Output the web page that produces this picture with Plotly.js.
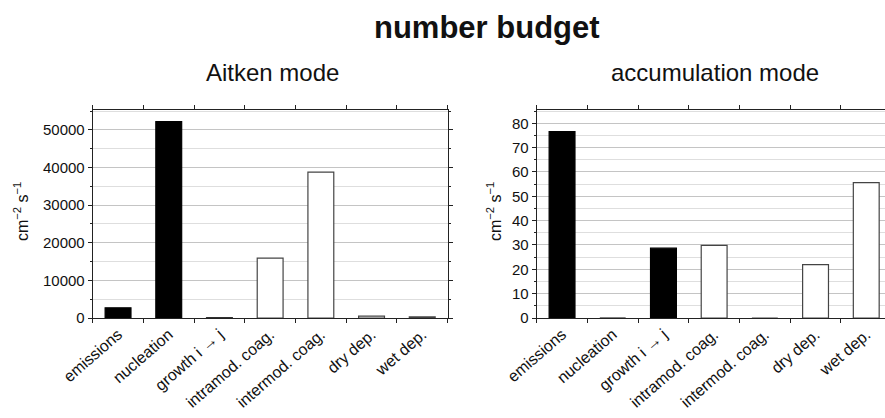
<!DOCTYPE html>
<html><head><meta charset="utf-8">
<script src="https://cdn.plot.ly/plotly-3.0.1.min.js"></script>
<style>html,body{margin:0;padding:0;overflow:hidden;background:#fff}#chart{width:900px;height:418px}</style>
</head><body><div id="chart"></div>
<script>
const categories = ["emissions", "nucleation", "growth i \u2192 j", "intramod. coag.", "intermod. coag.", "dry dep.", "wet dep."];
const aitkenValues = [2700, 52200, 60, 15900, 38800, 480, 300];
const accumValues = [76.6, 0, 28.7, 29.8, 0, 21.9, 55.6];
const barFill = ["#000000", "#000000", "#000000", "#ffffff", "#ffffff", "#ffffff", "#ffffff"];
const barEdge = ["#000000", "#000000", "#000000", "#444444", "#444444", "#444444", "#444444"];
const panelTitles = ["Aitken mode", "accumulation mode"];
const mainTitle = "number budget";
const yUnit = "cm<sup>\u22122</sup> s<sup>\u22121</sup>";

const FONT = "Liberation Sans, Arial, sans-serif";
const W = 900, H = 418, MT = 110, MB = 100;
const PH = H - MT - MB;
function py(px) { return (H - MB - px) / PH; }

function bar(y, xa, ya) {
  return {type: "bar", x: categories, y: y, xaxis: xa, yaxis: ya,
    marker: {color: barFill, line: {color: barEdge, width: 1.2}},
    showlegend: false, hoverinfo: "x+y"};
}

function xax(domain, anchor) {
  return {domain: domain, anchor: anchor, type: "category", range: [-0.5, 6.5],
    tickson: "boundaries", ticks: "outside", ticklen: 4, tickcolor: "#222",
    showline: true, linecolor: "#222", linewidth: 1, mirror: "ticks",
    showgrid: false, tickangle: -41, tickfont: {family: FONT, size: 16, color: "#111"},
    fixedrange: true};
}
function yax(range, dtick, minorDtick, anchor) {
  return {range: range, anchor: anchor, dtick: dtick, tickformat: "d",
    ticks: "outside", ticklen: 4, tickcolor: "#222",
    showline: true, linecolor: "#222", linewidth: 1, mirror: "ticks",
    showgrid: true, gridcolor: "#c4c4c4", gridwidth: 1, zeroline: false,
    minor: {dtick: minorDtick, showgrid: true, gridcolor: "#dedede", ticks: "outside", ticklen: 2, tickcolor: "#222"},
    tickfont: {family: FONT, size: 15, color: "#111"}, fixedrange: true};
}

const data = [bar(aitkenValues, "x", "y"), bar(accumValues, "x2", "y2")];

const layout = {
  width: W, height: H,
  margin: {l: 0, r: 0, t: MT, b: MB, pad: 0},
  paper_bgcolor: "#fff", plot_bgcolor: "#fff",
  bargap: 0.49,
  font: {family: FONT, color: "#111"},
  xaxis: xax([92.7 / W, 447.6 / W], "y"),
  yaxis: yax([0, 55300], 10000, 5000, "x"),
  xaxis2: xax([536.7 / W, 891.6 / W], "y2"),
  yaxis2: yax([0, 85.46], 10, 5, "x2"),
  annotations: [
    {text: "<b>" + mainTitle + "</b>", xref: "paper", yref: "paper", x: 487 / W, y: py(27),
      xanchor: "center", yanchor: "middle", showarrow: false, font: {family: FONT, size: 31, color: "#111"}},
    {text: panelTitles[0], xref: "paper", yref: "paper", x: 272 / W, y: py(72),
      xanchor: "center", yanchor: "middle", showarrow: false, font: {family: FONT, size: 24, color: "#111"}},
    {text: panelTitles[1], xref: "paper", yref: "paper", x: 715 / W, y: py(72),
      xanchor: "center", yanchor: "middle", showarrow: false, font: {family: FONT, size: 24, color: "#111"}},
    {text: yUnit, xref: "paper", yref: "paper", x: 21 / W, y: py(212), textangle: -90,
      xanchor: "center", yanchor: "middle", showarrow: false, font: {family: FONT, size: 16, color: "#111"}},
    {text: yUnit, xref: "paper", yref: "paper", x: 494 / W, y: py(212), textangle: -90,
      xanchor: "center", yanchor: "middle", showarrow: false, font: {family: FONT, size: 16, color: "#111"}}
  ]
};

Plotly.newPlot("chart", data, layout, {displayModeBar: false, staticPlot: true});
</script>
</body></html>
